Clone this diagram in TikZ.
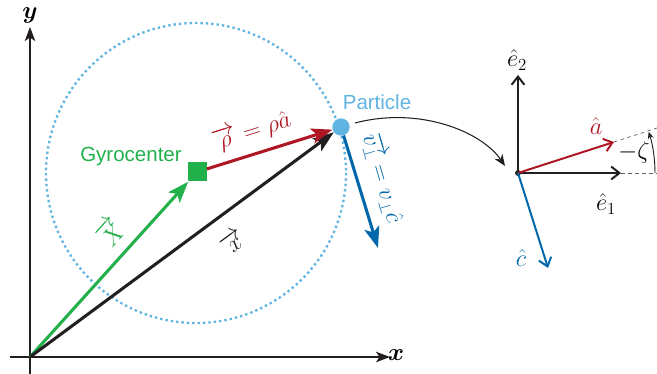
\RequirePackage{fix-cm}
\documentclass[tikz,border=0pt]{standalone}
\usepackage{amsmath,amssymb,bm}
\usepackage{fontspec}
\setsansfont{Liberation Sans}
\usepackage{xcolor}
\usepackage{tikz}
\usetikzlibrary{arrows.meta,calc,positioning}
\definecolor{verde}{RGB}{34,176,75}
\definecolor{rojo}{RGB}{175,22,35}
\definecolor{azul}{RGB}{0,104,170}
\definecolor{celeste}{RGB}{95,180,225}
\definecolor{negro}{RGB}{35,31,32}
\tikzset{
  ejes/.style={-{Stealth[length=12pt,width=9pt,inset=3pt]},negro,line width=1.1pt},
  vec/.style={-{Stealth[length=18pt,width=13pt,inset=4pt]},line width=2.6pt},
  base/.style={-{Straight Barb[length=7pt,width=11pt]},line width=1.7pt},
  etiq/.style={font=\huge},
  rotulo/.style={font=\sffamily\fontsize{17.5}{20}\selectfont}
}

\begin{document}
\begin{tikzpicture}[x=0.03cm,y=-0.03cm]
\useasboundingbox (0,0) rectangle (657,374);
% ejes
\coordinate (O) at (30,357);
\coordinate (xini) at (10,357);
\coordinate (xfin) at (390,357);
\coordinate (yini) at (30,374);
\coordinate (yfin) at (30,27);
\draw[ejes] (xini) -- (xfin);
\draw[ejes] (yini) -- (yfin);
\node[etiq] (xlab) at (396,355) {$\bm{x}$};
\node[etiq] (ylab) at (30,15) {$\bm{y}$};
% orbita
\draw[celeste,line width=2pt,dash pattern=on 2pt off 2.6pt] (196,173) circle[radius=150];
\node[fill=verde,minimum size=0.57cm,inner sep=0pt] (G) at (197,172) {};
\node[circle,fill=celeste,minimum size=0.52cm,inner sep=0pt] (P) at (341,127) {};
\coordinate (vfin) at (378,248);
\draw[vec,verde] (O) -- (G);
\draw[vec,negro] (O) -- (P);
\draw[vec,rojo] (G) -- (P);
\draw[vec,azul] (P) -- (vfin);
\node[rotulo,text=verde] (gyro) at (131,156) {Gyrocenter};
\node[rotulo,text=celeste] (part) at (377,102) {Particle};
\node[etiq,text=rojo,rotate=17.4] (rho) at (252,131) {$\overrightarrow{\rho}=\rho\hat{a}$};
\node[etiq,text=verde,rotate=48] (X) at (110,232) {$\overrightarrow{X}$};
\node[etiq,text=negro,rotate=36.5] (x) at (233,242) {$\overrightarrow{x}$};
\node[etiq,text=azul,rotate=-73.7] (v) at (383,178) {$\overrightarrow{v_\perp}=v_\perp\hat{c}$};
% base local
\node[circle,fill=negro,inner sep=0pt,minimum size=5pt] (Q) at (518,173) {};
\coordinate (ini) at (355,123);
\coordinate (fin) at (505,166);
\draw[-{Stealth[length=10pt,width=8pt]},negro,line width=0.9pt] (ini) .. controls (420,106) and (482,132) .. (fin);
\coordinate (e1) at (621,173);
\coordinate (e2) at (518,75);
\coordinate (a) at (614,142);
\coordinate (c) at (548,268);
\coordinate (e1d) at (657,173);
\coordinate (ad) at (657,128);
\draw[dashed,negro!70,line width=0.6pt] (e1) -- (e1d);
\draw[dashed,negro!70,line width=0.6pt] (a) -- (ad);
\draw[base,negro] (Q.center) -- (e1);
\draw[base,negro] (Q.center) -- (e2);
\draw[base,rojo] (Q.center) -- (a);
\draw[base,azul] (Q.center) -- (c);
\draw[-{Stealth[length=6pt,width=5pt]},negro,line width=0.8pt] ([shift={(0:137)}]Q.center) arc[start angle=0,end angle=-17.5,radius=137];
\node[etiq] (e2lab) at (517,60) {$\hat{e}_2$};
\node[etiq] (e1lab) at (606,204) {$\hat{e}_1$};
\node[etiq,text=rojo] (alab) at (596,126) {$\hat{a}$};
\node[etiq,text=azul] (clab) at (521,258) {$\hat{c}$};
\node[etiq] (zeta) at (634,152) {$-\zeta$};
\end{tikzpicture}
\end{document}
